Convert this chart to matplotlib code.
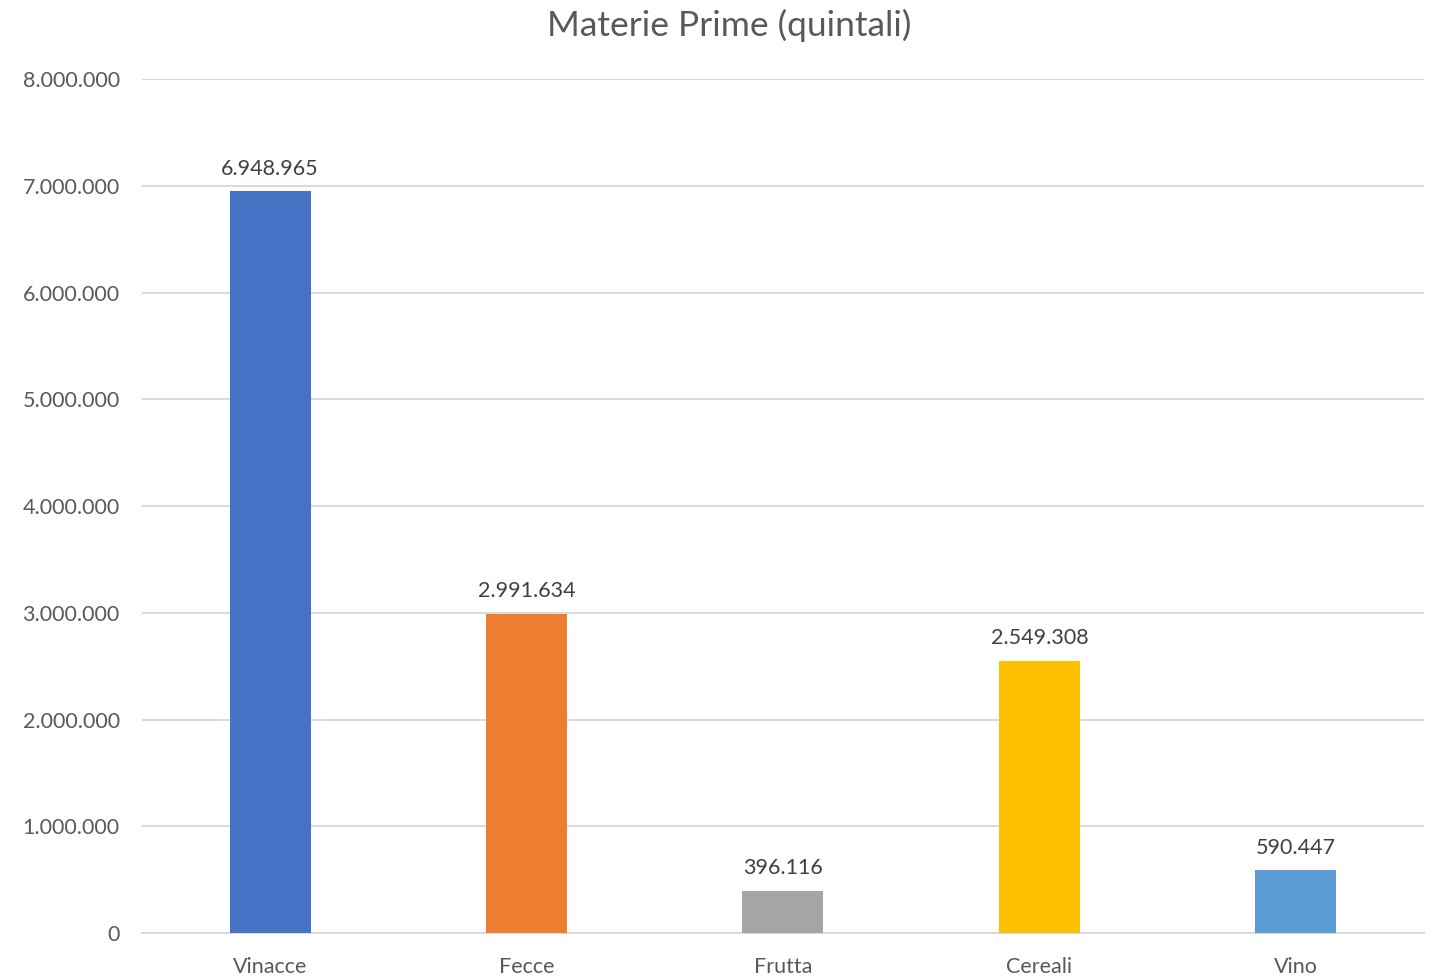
import matplotlib.pyplot as plt
from matplotlib.ticker import FuncFormatter

categories = ["Vinacce", "Fecce", "Frutta", "Cereali", "Vino"]
values = [6948965, 2991634, 396116, 2549308, 590447]
colors = ["#4472C4", "#ED7D31", "#A5A5A5", "#FFC000", "#5B9BD5"]
yticks = [0, 1000000, 2000000, 3000000, 4000000, 5000000, 6000000, 7000000, 8000000]


def fmt_it(v, pos=None):
    return f"{int(v):,}".replace(",", ".")


plt.rcParams['font.family'] = ['Lato', 'DejaVu Sans']
text_color = "#595959"

fig = plt.figure(figsize=(14.38, 9.77), dpi=100)
ax = fig.add_axes([0.0987, 0.045, 0.8915, 0.874])

x = range(len(categories))
bars = ax.bar(x, values, width=0.316, color=colors, zorder=3)

for xi, v in zip(x, values):
    ax.annotate(fmt_it(v), (xi, v), xytext=(0, 9), textcoords="offset points",
                ha="center", va="bottom", fontsize=15.5, color="#404040")

ax.set_xlim(-0.5, len(categories) - 0.5)
ax.set_ylim(0, 8000000)
ax.set_yticks(yticks)
ax.yaxis.set_major_formatter(FuncFormatter(fmt_it))
ax.set_xticks(list(x))
ax.set_xticklabels(categories)

ax.grid(axis="y", color="#D9D9D9", linewidth=1.4, zorder=0)
for side in ["top", "right", "left"]:
    ax.spines[side].set_visible(False)
ax.spines["bottom"].set_color("#D9D9D9")
ax.spines["bottom"].set_linewidth(1.4)
ax.tick_params(axis="both", length=0, labelsize=15.5, colors=text_color)
ax.tick_params(axis="y", pad=16)
ax.tick_params(axis="x", pad=17)

fig.text(0.507, 0.974, "Materie Prime (quintali)", ha="center", va="center",
         fontsize=25.5, color=text_color)

fig.savefig("out.png", dpi=100)
